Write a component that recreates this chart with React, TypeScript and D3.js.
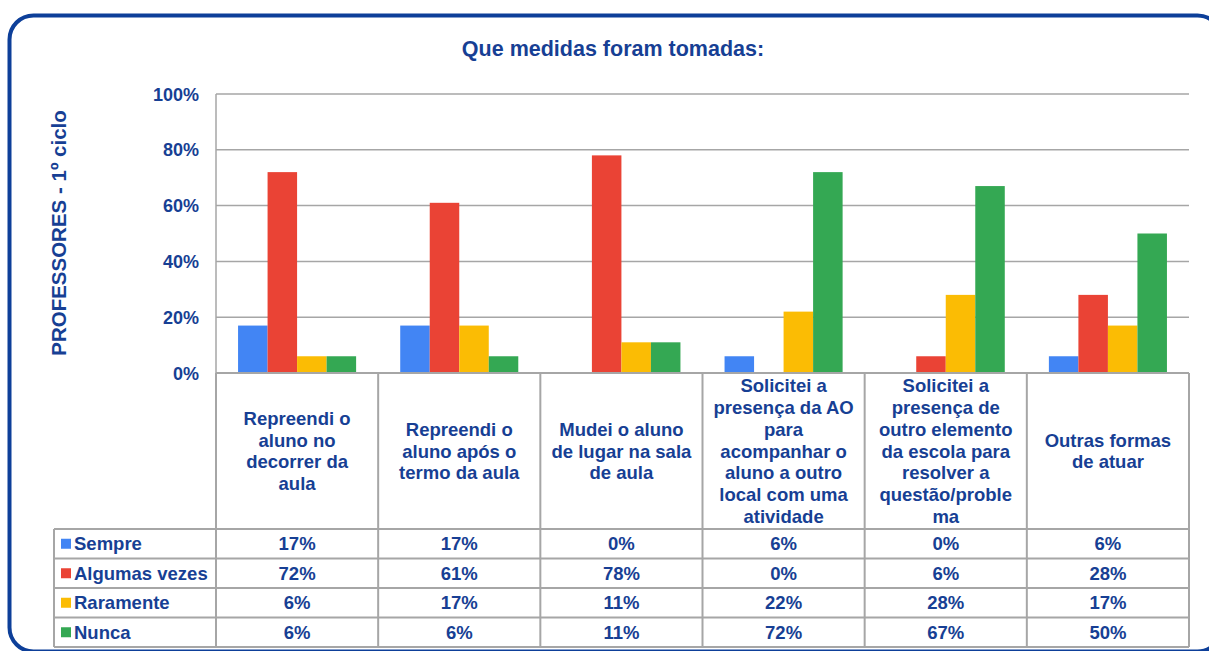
import React from "react";
import * as d3 from "d3";

const categories = [
  ["Repreendi o", "aluno no", "decorrer da", "aula"],
  ["Repreendi o", "aluno após o", "termo da aula"],
  ["Mudei o aluno", "de lugar na sala", "de aula"],
  ["Solicitei a", "presença da AO", "para", "acompanhar o", "aluno a outro", "local com uma", "atividade"],
  ["Solicitei a", "presença de", "outro elemento", "da escola para", "resolver a", "questão/proble", "ma"],
  ["Outras formas", "de atuar"],
];
const seriesNames = ["Sempre", "Algumas vezes", "Raramente", "Nunca"];
const seriesColors = ["#4285f4", "#ea4335", "#fbbc04", "#34a853"];
const sempre = [17, 17, 0, 6, 0, 6];
const algumasVezes = [72, 61, 78, 0, 6, 28];
const raramente = [6, 17, 11, 22, 28, 17];
const nunca = [6, 6, 11, 72, 67, 50];
const seriesValues = [sempre, algumasVezes, raramente, nunca];
const yTicks = [0, 20, 40, 60, 80, 100];

const TEXT = "#173f94";
const GRID = "#a6a6a6";
const FONT = "'Liberation Sans', Arial, sans-serif";

export default function App() {
  const left = 216, right = 1189, top = 94, bottom = 373;
  const tableLeft = 54;
  const labelBottom = 529;
  const rowH = 29.5;
  const idx = categories.map((_, i) => String(i));
  const x0 = d3.scaleBand<string>().domain(idx).range([left, right]).padding(0);
  const bw = x0.bandwidth();
  const x1 = d3.scaleBand<string>().domain(seriesNames).range([bw * 0.136, bw * 0.864]).padding(0);
  const y = d3.scaleLinear().domain([0, 100]).range([bottom, top]);
  const tableBottom = labelBottom + rowH * seriesNames.length;
  const FS = 18.5;

  return (
    <svg width={1209} height={651} style={{ position: "absolute", left: 0, top: 0 }} fontFamily={FONT}>
      <rect x={0} y={0} width={1209} height={651} fill="#fff" />
      <rect x={9.5} y={15.5} width={1212} height={636} rx={24} ry={24} fill="none" stroke="#0d3f99" strokeWidth={4} />
      <text x={613} y={56} textAnchor="middle" fontSize={21.5} fontWeight="bold" fill={TEXT}>
        Que medidas foram tomadas:
      </text>
      <text transform={`translate(66,233) rotate(-90)`} textAnchor="middle" fontSize={20.5} fontWeight="bold" fill={TEXT}>
        PROFESSORES - 1º ciclo
      </text>
      {yTicks.map((t) => (
        <g key={t}>
          <line x1={left} x2={right} y1={y(t)} y2={y(t)} stroke={GRID} strokeWidth={1.5} />
          <text x={199} y={y(t) + 6.5} textAnchor="end" fontSize={18} fontWeight="bold" fill={TEXT}>
            {t}%
          </text>
        </g>
      ))}
      <line x1={left} x2={left} y1={top} y2={bottom} stroke={GRID} strokeWidth={1.5} />
      {seriesValues.map((vals, s) =>
        vals.map((v, i) => (
          <rect
            key={`${s}-${i}`}
            x={(x0(String(i)) as number) + (x1(seriesNames[s]) as number)}
            y={y(v)}
            width={x1.bandwidth()}
            height={bottom - y(v)}
            fill={seriesColors[s]}
          />
        ))
      )}
      <g stroke={GRID} strokeWidth={2} fill="none">
        {idx.map((k) => (
          <line key={k} x1={x0(k)} x2={x0(k)} y1={bottom} y2={tableBottom} />
        ))}
        <line x1={right} x2={right} y1={bottom} y2={tableBottom} />
        <line x1={tableLeft} x2={tableLeft} y1={labelBottom} y2={tableBottom} />
        {seriesNames.map((_, r) => (
          <line key={r} x1={tableLeft} x2={right} y1={labelBottom + r * rowH} y2={labelBottom + r * rowH} />
        ))}
        <line x1={tableLeft} x2={right} y1={tableBottom} y2={tableBottom} />
        <line x1={left} x2={right} y1={bottom} y2={bottom} />
      </g>
      {categories.map((lines, i) => {
        const cx = (x0(String(i)) as number) + bw / 2;
        const lh = 21.7;
        const startY = 451 - ((lines.length - 1) * lh) / 2 + 6.5;
        return (
          <text key={i} textAnchor="middle" fontSize={FS} fontWeight="bold" fill={TEXT}>
            {lines.map((l, j) => (
              <tspan key={j} x={cx} y={startY + j * lh}>
                {l}
              </tspan>
            ))}
          </text>
        );
      })}
      {seriesNames.map((name, r) => {
        const cy = labelBottom + r * rowH + rowH / 2;
        return (
          <g key={name}>
            <rect x={61} y={cy - 5} width={10} height={10} fill={seriesColors[r]} />
            <text x={74} y={cy + 6.5} fontSize={FS} fontWeight="bold" fill={TEXT}>
              {name}
            </text>
            {seriesValues[r].map((v, i) => (
              <text key={i} x={(x0(String(i)) as number) + bw / 2} y={cy + 6.5} textAnchor="middle" fontSize={FS} fontWeight="bold" fill={TEXT}>
                {v}%
              </text>
            ))}
          </g>
        );
      })}
    </svg>
  );
}
